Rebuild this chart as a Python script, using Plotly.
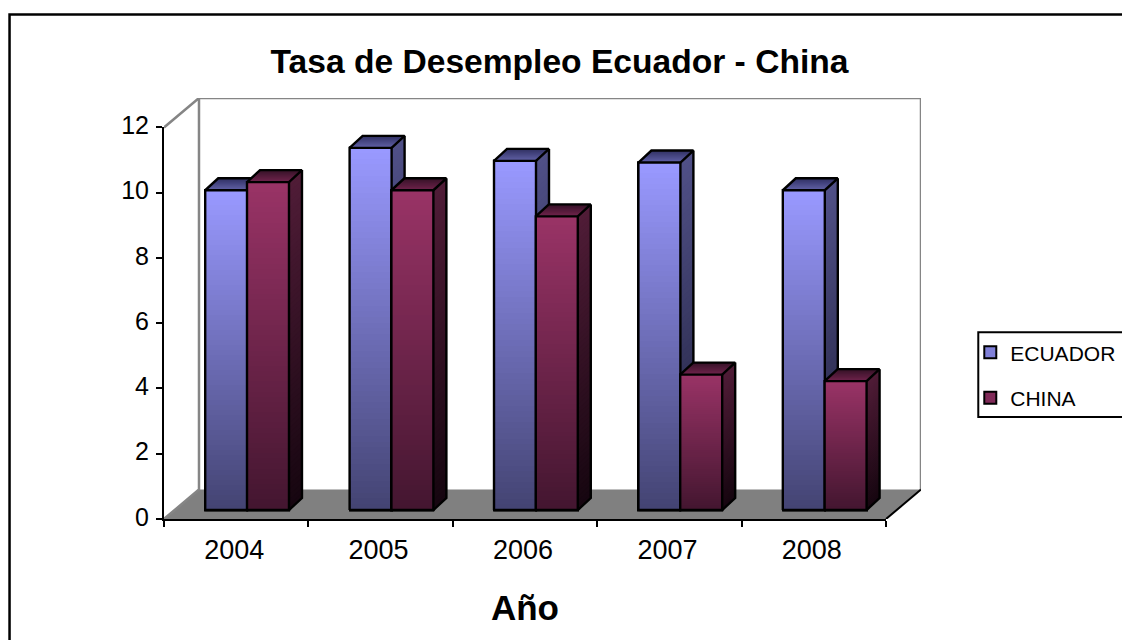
import plotly.graph_objects as go

years = ["2004", "2005", "2006", "2007", "2008"]
ecuador = [9.8, 11.1, 10.7, 10.65, 9.8]
china = [10.05, 9.8, 9.0, 4.15, 3.95]
y_ticks = [0, 2, 4, 6, 8, 10, 12]

FONT = "Liberation Sans"
W, H = 1122, 640
L, R, T, B = 163.5, 885.7, 127.0, 519.0
WALL_PX, WALL_PY = 35.0, 29.5
PX = (R - L) / 5          # px per category
PY = (B - T) / 12         # px per unit
WALL_X, WALL_Y = WALL_PX / PX, WALL_PY / PY
BASE = 9 / PY
DX, DY = 13 / PX, 12 / PY
BAR_W = 42 / PX
OFF_E, OFF_C = -10 / PX, 31.8 / PX
N = 64


def mix(a, b, t):
    return "rgb(%d,%d,%d)" % tuple(round(a[i] + (b[i] - a[i]) * t) for i in range(3))


fig = go.Figure()

# floor and walls: base subplot, hidden axes covering the whole box
fx = [-0.5, -0.5 + WALL_X, 4.5 + WALL_X, 4.5, -0.5]
fy = [0, WALL_Y, WALL_Y, 0, 0]
fig.add_trace(go.Scatter(x=fx, y=fy, fill="toself", fillcolor="#808080", mode="none",
                         showlegend=False, hoverinfo="skip", cliponaxis=False))
wx = [-0.5, -0.5 + WALL_X, -0.5 + WALL_X, -0.5, None,
      -0.5 + WALL_X, 4.5 + WALL_X, 4.5 + WALL_X]
wy = [12, 12 + WALL_Y, WALL_Y, 0, None, 12 + WALL_Y, 12 + WALL_Y, WALL_Y]
fig.add_trace(go.Scatter(x=wx, y=wy, mode="lines", line=dict(color="#858585", width=2.5),
                         showlegend=False, hoverinfo="skip", cliponaxis=False))
fig.add_trace(go.Scatter(x=[4.5, 4.5 + WALL_X], y=[0, WALL_Y], mode="lines",
                         line=dict(color="black", width=2),
                         showlegend=False, hoverinfo="skip", cliponaxis=False))


def add_series(name, values, off, ax, front, side, top, legend_color):
    xa, ya = "x" + ax, "y" + ax
    xs = [i + off for i in range(5)]
    bases = [BASE] * 5
    # legend-carrying solid bars
    fig.add_trace(go.Bar(x=xs, y=values, base=bases, width=BAR_W, name=name, legendgroup=name,
                         marker=dict(color=legend_color, line=dict(color="black", width=2)),
                         cliponaxis=False, hoverinfo="skip", xaxis=xa, yaxis=ya))
    # front-face gradient: each slice paints from its level down to the base
    sx, sh, sc = [], [], []
    for k in range(N):
        t = k / (N - 1)
        for i, v in enumerate(values):
            sx.append(xs[i])
            sh.append(v * (1 - k / N))
            sc.append(mix(front[0], front[1], t))
    fig.add_trace(go.Bar(x=sx, y=sh, base=[BASE] * len(sx), width=BAR_W,
                         marker=dict(color=sc, line=dict(width=0)),
                         showlegend=False, cliponaxis=False, hoverinfo="skip", xaxis=xa, yaxis=ya))
    # side-face gradient
    for k in range(N):
        t = k / (N - 1)
        px, py = [], []
        for i, v in enumerate(values):
            r = xs[i] + BAR_W / 2
            y1 = BASE + v * (1 - k / N)
            px += [r, r + DX, r + DX, r, r, None]
            py += [BASE, BASE + DY, y1 + DY, y1, BASE, None]
        fig.add_trace(go.Scatter(x=px, y=py, fill="toself", fillcolor=mix(side[0], side[1], t),
                                 mode="none", showlegend=False, hoverinfo="skip",
                                 cliponaxis=False, xaxis=xa, yaxis=ya))
    # top-face gradient: front to back
    M = 12
    for k in range(M):
        px, py = [], []
        for i, v in enumerate(values):
            l, r = xs[i] - BAR_W / 2, xs[i] + BAR_W / 2
            y = BASE + v
            a = k / M
            px += [l + DX * a, r + DX * a, r + DX, l + DX, l + DX * a, None]
            py += [y + DY * a, y + DY * a, y + DY, y + DY, y + DY * a, None]
        fig.add_trace(go.Scatter(x=px, y=py, fill="toself",
                                 fillcolor=mix(top[0], top[1], k / (M - 1)),
                                 mode="none", showlegend=False, hoverinfo="skip",
                                 cliponaxis=False, xaxis=xa, yaxis=ya))
    # outlines
    ox, oy = [], []
    for i, v in enumerate(values):
        l, r = xs[i] - BAR_W / 2, xs[i] + BAR_W / 2
        y = BASE + v
        ox += [l, r, r, l, l, None,
               l, l + DX, r + DX, r, None,
               r + DX, r + DX, r, None]
        oy += [BASE, BASE, y, y, BASE, None,
               y, y + DY, y + DY, y, None,
               y + DY, BASE + DY, BASE, None]
    fig.add_trace(go.Scatter(x=ox, y=oy, mode="lines", line=dict(color="black", width=2.4),
                             showlegend=False, hoverinfo="skip", cliponaxis=False,
                             xaxis=xa, yaxis=ya))


add_series("ECUADOR", ecuador, OFF_E, "2",
           ((153, 153, 255), (68, 68, 115)), ((80, 80, 135), (32, 32, 60)),
           ((95, 95, 165), (50, 50, 100)), "#8080d8")
add_series("CHINA", china, OFF_C, "3",
           ((153, 51, 102), (68, 22, 48)), ((80, 28, 55), (22, 6, 16)),
           ((110, 35, 75), (55, 18, 40)), "#802a58")

xr = [-0.5, 4.5]
yr = [0, 12]
P_L, P_R, P_T, P_B = L, R + WALL_PX, T - WALL_PY, B
dom_x = [0, (R - L) / (P_R - P_L)]
dom_y = [0, (B - T) / (P_B - P_T)]


def to_px(x):  # page pixel to paper-x
    return (x - P_L) / (P_R - P_L)


def to_py(y):  # page pixel to paper-y
    return (P_B - y) / (P_B - P_T)


fig.update_layout(
    width=W, height=H, autosize=False,
    margin=dict(l=P_L, r=W - P_R, t=P_T, b=H - P_B, pad=0, autoexpand=False),
    paper_bgcolor="white", plot_bgcolor="rgba(0,0,0,0)",
    barmode="overlay", bargap=0,
    font=dict(family=FONT, color="black"),
    title=dict(text="<b>Tasa de Desempleo Ecuador - China</b>", x=559.5 / W, xanchor="center",
               y=1 - 61 / H, yanchor="middle", xref="container", yref="container",
               font=dict(size=33.6, family=FONT)),
    xaxis=dict(range=[-0.5, 4.5 + WALL_X], domain=[0, 1], visible=False),
    yaxis=dict(range=[0, 12 + WALL_Y], domain=[0, 1], visible=False),
    xaxis2=dict(range=xr, domain=dom_x, anchor="y2", tickmode="array", tickvals=list(range(5)),
                ticktext=years, ticks="", showgrid=False, zeroline=False, showline=True,
                linecolor="black", linewidth=2, tickfont=dict(size=27, family=FONT),
                ticklabelstandoff=6, ticklabelshift=-2,
                minor=dict(tickmode="array", tickvals=[-0.5, 0.5, 1.5, 2.5, 3.5, 4.5],
                           ticks="outside", ticklen=6, tickwidth=2, tickcolor="black",
                           showgrid=False),
                title=dict(text="<b>Año</b>", font=dict(size=35, family=FONT), standoff=31)),
    yaxis2=dict(range=yr, domain=dom_y, anchor="x2", tickmode="array", tickvals=y_ticks,
                ticks="outside", ticklen=6, tickwidth=2, tickcolor="black", showgrid=False,
                zeroline=False, showline=True, linecolor="black", linewidth=2,
                ticklabelstandoff=2, ticklabelshift=-2,
                tickfont=dict(size=25, family=FONT)),
    xaxis3=dict(range=xr, domain=dom_x, overlaying="x2", anchor="y3", visible=False),
    yaxis3=dict(range=yr, domain=dom_y, overlaying="y2", anchor="x3", visible=False),
    legend=dict(x=to_px(970), xanchor="left", y=to_py(332), yanchor="top",
                borderwidth=0, bgcolor="rgba(0,0,0,0)", font=dict(size=21, family=FONT),
                traceorder="grouped", tracegroupgap=15),
    shapes=[
        dict(type="rect", xref="paper", yref="paper", x0=to_px(9), x1=to_px(1140),
             y0=to_py(14), y1=to_py(660), line=dict(color="black", width=2.5),
             fillcolor="rgba(0,0,0,0)"),
        dict(type="rect", xref="paper", yref="paper", x0=to_px(978), x1=to_px(1140),
             y0=to_py(332), y1=to_py(417), line=dict(color="black", width=2),
             fillcolor="rgba(0,0,0,0)"),
    ],
)

fig.write_html("out.html", config=dict(displayModeBar=False),
               post_script="document.body.style.margin='0';document.documentElement.style.overflow='hidden';")
